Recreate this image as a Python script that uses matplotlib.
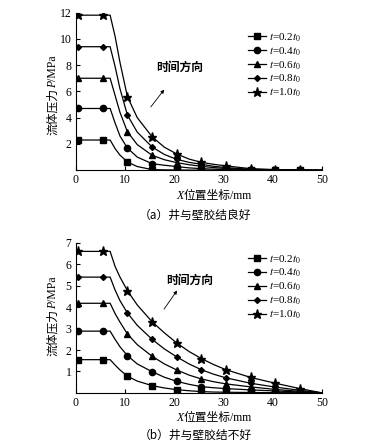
import matplotlib
matplotlib.use("Agg")
import matplotlib.pyplot as plt

plt.rcParams["font.family"] = ["Liberation Serif", "Noto Sans CJK SC"]
plt.rcParams["mathtext.fontset"] = "stix"

# curve sample positions (mm); markers sit at 0.5, 5.5, 10.5, ... 45.5
x_curve = [0, 0.5, 5.5, 7, 8, 9, 10.5, 12.5, 15.5, 18, 20.5, 23, 25.5, 28, 30.5, 35.5, 40.5, 45.5, 50]
mark_idx = [1, 2, 6, 8, 10, 12, 14, 15, 16, 17]

labels = ["$t$=0.2$t_0$", "$t$=0.4$t_0$", "$t$=0.6$t_0$", "$t$=0.8$t_0$", "$t$=1.0$t_0$"]
markers = ["s", "o", "^", "D", "*"]
msizes = [4.0, 4.5, 4.5, 3.0, 6.5]

# (a) good cement bond
p_a_02 = [2.3, 2.3, 2.3, 2.3, 1.65, 1.15, 0.63, 0.28, 0.05, 0.03, 0.02, 0.01, 0.01, 0, 0, 0, 0, 0, 0]
p_a_04 = [4.7, 4.7, 4.7, 4.7, 3.6, 2.6, 1.69, 1.0, 0.5, 0.38, 0.28, 0.18, 0.12, 0.08, 0.05, 0.02, 0.01, 0, 0]
p_a_06 = [7.0, 7.0, 7.0, 7.0, 5.7, 4.4, 2.93, 1.95, 1.14, 0.8, 0.58, 0.42, 0.3, 0.2, 0.13, 0.05, 0.02, 0.01, 0]
p_a_08 = [9.4, 9.4, 9.4, 9.4, 7.9, 6.2, 4.2, 2.9, 1.77, 1.2, 0.83, 0.6, 0.45, 0.3, 0.2, 0.07, 0.03, 0.01, 0]
p_a_10 = [11.8, 11.8, 11.8, 11.8, 10.2, 8.2, 5.6, 4.0, 2.55, 1.75, 1.24, 0.85, 0.6, 0.45, 0.33, 0.12, 0.05, 0.02, 0]

# (b) poor cement bond
p_b_02 = [1.55, 1.55, 1.55, 1.55, 1.3, 1.07, 0.78, 0.55, 0.34, 0.23, 0.15, 0.1, 0.06, 0.04, 0.03, 0.02, 0.01, 0.01, 0]
p_b_04 = [2.88, 2.88, 2.88, 2.88, 2.5, 2.15, 1.74, 1.35, 0.99, 0.73, 0.54, 0.4, 0.29, 0.24, 0.2, 0.14, 0.09, 0.04, 0]
p_b_06 = [4.18, 4.18, 4.18, 4.18, 3.7, 3.3, 2.75, 2.25, 1.71, 1.35, 1.07, 0.83, 0.65, 0.52, 0.42, 0.28, 0.16, 0.07, 0]
p_b_08 = [5.4, 5.4, 5.4, 5.4, 4.8, 4.3, 3.73, 3.15, 2.5, 2.05, 1.68, 1.35, 1.08, 0.87, 0.70, 0.45, 0.27, 0.12, 0]
p_b_10 = [6.6, 6.6, 6.6, 6.6, 5.9, 5.4, 4.77, 4.1, 3.32, 2.8, 2.33, 1.93, 1.6, 1.32, 1.08, 0.72, 0.45, 0.2, 0]

panels = [
    dict(series=[p_a_02, p_a_04, p_a_06, p_a_08, p_a_10], ylim=12, yticks=[2, 4, 6, 8, 10, 12],
         rect=[0.206, 0.620, 0.672, 0.352], arrow=((14.9, 4.65), (18.3, 6.3)), note=(21.2, 7.8),
         leg=(0.675, 0.930), ylab_y=0.788, xlab_y=0.556, cap_y=0.520, cap="（a）井与壁胶结良好"),
    dict(series=[p_b_02, p_b_04, p_b_06, p_b_08, p_b_10], ylim=7, yticks=[1, 2, 3, 4, 5, 6, 7],
         rect=[0.206, 0.123, 0.672, 0.335], arrow=((17.6, 3.8), (20.9, 4.88)), note=(23.2, 5.23),
         leg=(0.675, 0.435), ylab_y=0.294, xlab_y=0.061, cap_y=0.029, cap="（b）井与壁胶结不好"),
]

SERIF = ["Liberation Serif"]
CJK = ["Noto Sans CJK SC"]


def rich_text(fig, x, y, pieces, vertical=False, size=8.5):
    # mixed-font label: pieces laid end to end on one baseline, centred on (x or y)
    renderer = fig.canvas.get_renderer()
    texts = []
    for s, props in pieces:
        t = fig.text(x, y, s, fontsize=size, rotation=90 if vertical else 0,
                     rotation_mode="anchor", ha="left", va="baseline", **props)
        texts.append(t)
    exts = [t.get_window_extent(renderer) for t in texts]
    lens = [(b.height if vertical else b.width) for b in exts]
    if vertical:
        pos = y * fig.bbox.height - sum(lens) / 2
        for t, ln in zip(texts, lens):
            t.set_position((x, pos / fig.bbox.height))
            pos += ln
    else:
        pos = x * fig.bbox.width - sum(lens) / 2
        for t, ln in zip(texts, lens):
            t.set_position((pos / fig.bbox.width, y))
            pos += ln


fig = plt.figure(figsize=(3.67, 4.48), dpi=100)

for p in panels:
    ax = fig.add_axes(p["rect"])
    for ys, lab, mk, ms in zip(p["series"], labels, markers, msizes):
        ax.plot(x_curve, ys, color="black", lw=0.9, marker=mk, ms=ms, markevery=mark_idx,
                label=lab)
    ax.set_xlim(0, 50)
    ax.set_ylim(0, p["ylim"])
    ax.set_xticks([0, 10, 20, 30, 40, 50])
    ax.set_yticks(p["yticks"])
    ax.tick_params(direction="in", length=3, width=0.8, labelsize=8.5, pad=3)
    for s in ["top", "right"]:
        ax.spines[s].set_visible(False)
    for s in ["left", "bottom"]:
        ax.spines[s].set_linewidth(0.8)
    ax.annotate("", xy=p["arrow"][1], xytext=p["arrow"][0],
                arrowprops=dict(arrowstyle="-|>", color="black", lw=0.6, mutation_scale=5))
    ax.text(p["note"][0], p["note"][1], "时间方向", fontsize=8.5, ha="center", va="center",
            family=CJK, fontweight="bold")
    ax.legend(loc="upper left", bbox_to_anchor=p["leg"], bbox_transform=fig.transFigure,
              frameon=False, fontsize=8, handlelength=1.6, handletextpad=0.3,
              labelspacing=0.12, borderpad=0, borderaxespad=0)
    rich_text(fig, 0.153, p["ylab_y"],
              [("流体压力", dict(family=CJK)), ("P", dict(family=SERIF, style="italic")),
               ("/MPa", dict(family=SERIF))], vertical=True)
    rich_text(fig, 0.583, p["xlab_y"],
              [("X", dict(family=SERIF, style="italic")), ("位置坐标", dict(family=CJK)),
               ("/mm", dict(family=SERIF))])
    fig.text(0.531, p["cap_y"], p["cap"], fontsize=8.5, ha="center", va="center", family=CJK)

fig.savefig("out.png", dpi=100)
